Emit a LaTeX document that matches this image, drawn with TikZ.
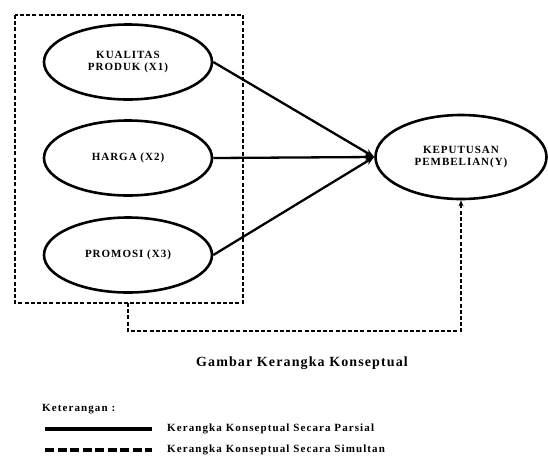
\documentclass[tikz,border=0pt]{standalone}
\usepackage{fontspec}
\setmainfont{Liberation Serif}
\usetikzlibrary{shapes.geometric,arrows.meta}
\begin{document}
\begin{tikzpicture}[x=1pt,y=-1pt,
  var/.style={draw,line width=2.6pt,ellipse,minimum width=168pt,minimum height=75pt,inner sep=0pt,align=center,font=\fontsize{11}{12.5}\selectfont\bfseries\addfontfeatures{LetterSpace=9}},
  part/.style={line width=2.3pt,-{Stealth[length=9pt,width=7pt]}},
  simul/.style={line width=1.6pt,dash pattern=on 4pt off 2.2pt},
  lbl/.style={font=\fontsize{11}{13}\selectfont\bfseries\addfontfeatures{LetterSpace=10},anchor=west,inner sep=0pt}]
\useasboundingbox (0,0) rectangle (548,459);
\node[var] (x1) at (128,62) {KUALITAS\\PRODUK (X1)};
\node[var] (x2) at (128,158) {HARGA (X2)};
\node[var] (x3) at (128,255) {PROMOSI (X3)};
\node[var,minimum width=171pt,minimum height=84pt] (y) at (461,157) {KEPUTUSAN\\PEMBELIAN(Y)};
\draw[simul] (15,15) rectangle (243,303);
\coordinate (bb) at (128,303);
\coordinate (c1) at (128,331);
\coordinate (c2) at (y.south |- c1);
\draw[part] (x1.east) -- (y.west);
\draw[part] (x2.east) -- (y.west);
\draw[part] (x3.east) -- (y.west);
\draw[simul,-{Stealth[length=6pt,width=5pt]}] (bb) -- (c1) -- (c2) -- (y.south);
\node[font=\fontsize{14}{16}\selectfont\bfseries\addfontfeatures{LetterSpace=8}] (cap) at (302,363) {Gambar Kerangka Konseptual};
\node[lbl] (ket) at (42,409) {Keterangan :};
\coordinate (l1a) at (45,429);
\coordinate (l1b) at (152,429);
\coordinate (l2a) at (45,450);
\coordinate (l2b) at (152,450);
\draw[line width=3.4pt] (l1a) -- (l1b);
\draw[line width=3.4pt,dash pattern=on 9pt off 3.5pt] (l2a) -- (l2b);
\node[lbl] (t1) at (167,429) {Kerangka Konseptual Secara Parsial};
\node[lbl] (t2) at (167,450) {Kerangka Konseptual Secara Simultan};
\end{tikzpicture}
\end{document}
